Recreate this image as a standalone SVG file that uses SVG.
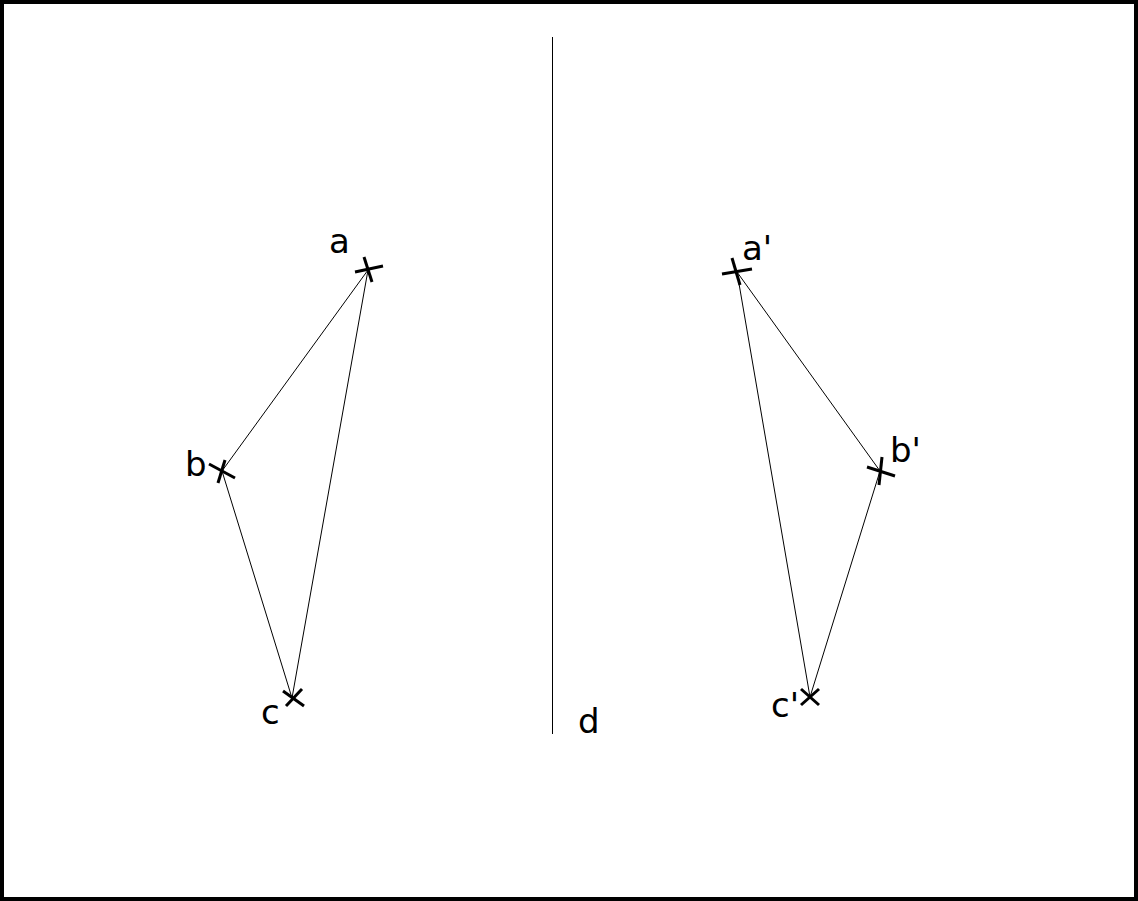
<svg xmlns="http://www.w3.org/2000/svg" width="1138" height="901" viewBox="0 0 1138 901">
<style>
.edge{stroke:#000;stroke-width:1;fill:none}
.mark{stroke:#000;stroke-width:3;fill:none}
.lbl{font-family:"DejaVu Sans",sans-serif;font-size:34px;fill:#000}
</style>
<rect x="2" y="2" width="1134" height="897" fill="#fff" stroke="#000" stroke-width="4"/>
<g id="connectors">
<line class="edge" x1="552.5" y1="37" x2="552.5" y2="734"/>
<line class="edge" x1="368" y1="270" x2="222" y2="471"/>
<line class="edge" x1="368" y1="270" x2="292" y2="698"/>
<line class="edge" x1="222" y1="471" x2="292" y2="698"/>
<line class="edge" x1="737" y1="272" x2="880" y2="471"/>
<line class="edge" x1="737" y1="272" x2="810" y2="697"/>
<line class="edge" x1="880" y1="471" x2="810" y2="697"/>
</g>
<g id="node-a">
<line class="mark" x1="355" y1="272" x2="383" y2="266"/>
<line class="mark" x1="364" y1="257" x2="372" y2="282"/>
<text class="lbl" x="329" y="253">a</text>
</g>
<g id="node-b">
<line class="mark" x1="209" y1="464" x2="235" y2="478"/>
<line class="mark" x1="225" y1="460" x2="218" y2="483"/>
<text class="lbl" x="185" y="476">b</text>
</g>
<g id="node-c">
<line class="mark" x1="283" y1="691" x2="304" y2="706"/>
<line class="mark" x1="286" y1="706" x2="302" y2="689"/>
<text class="lbl" x="261" y="724">c</text>
</g>
<g id="node-d">
<text class="lbl" x="578" y="733">d</text>
</g>
<g id="node-a2">
<line class="mark" x1="722" y1="274" x2="752" y2="269"/>
<line class="mark" x1="732" y1="258" x2="740" y2="285"/>
<text class="lbl" x="742" y="260">a'</text>
</g>
<g id="node-b2">
<line class="mark" x1="867" y1="467" x2="895" y2="476"/>
<line class="mark" x1="882" y1="457" x2="879" y2="485"/>
<text class="lbl" x="890" y="462">b'</text>
</g>
<g id="node-c2">
<line class="mark" x1="801" y1="689" x2="819" y2="705"/>
<line class="mark" x1="801" y1="705" x2="819" y2="689"/>
<text class="lbl" x="771" y="717">c'</text>
</g>
</svg>
